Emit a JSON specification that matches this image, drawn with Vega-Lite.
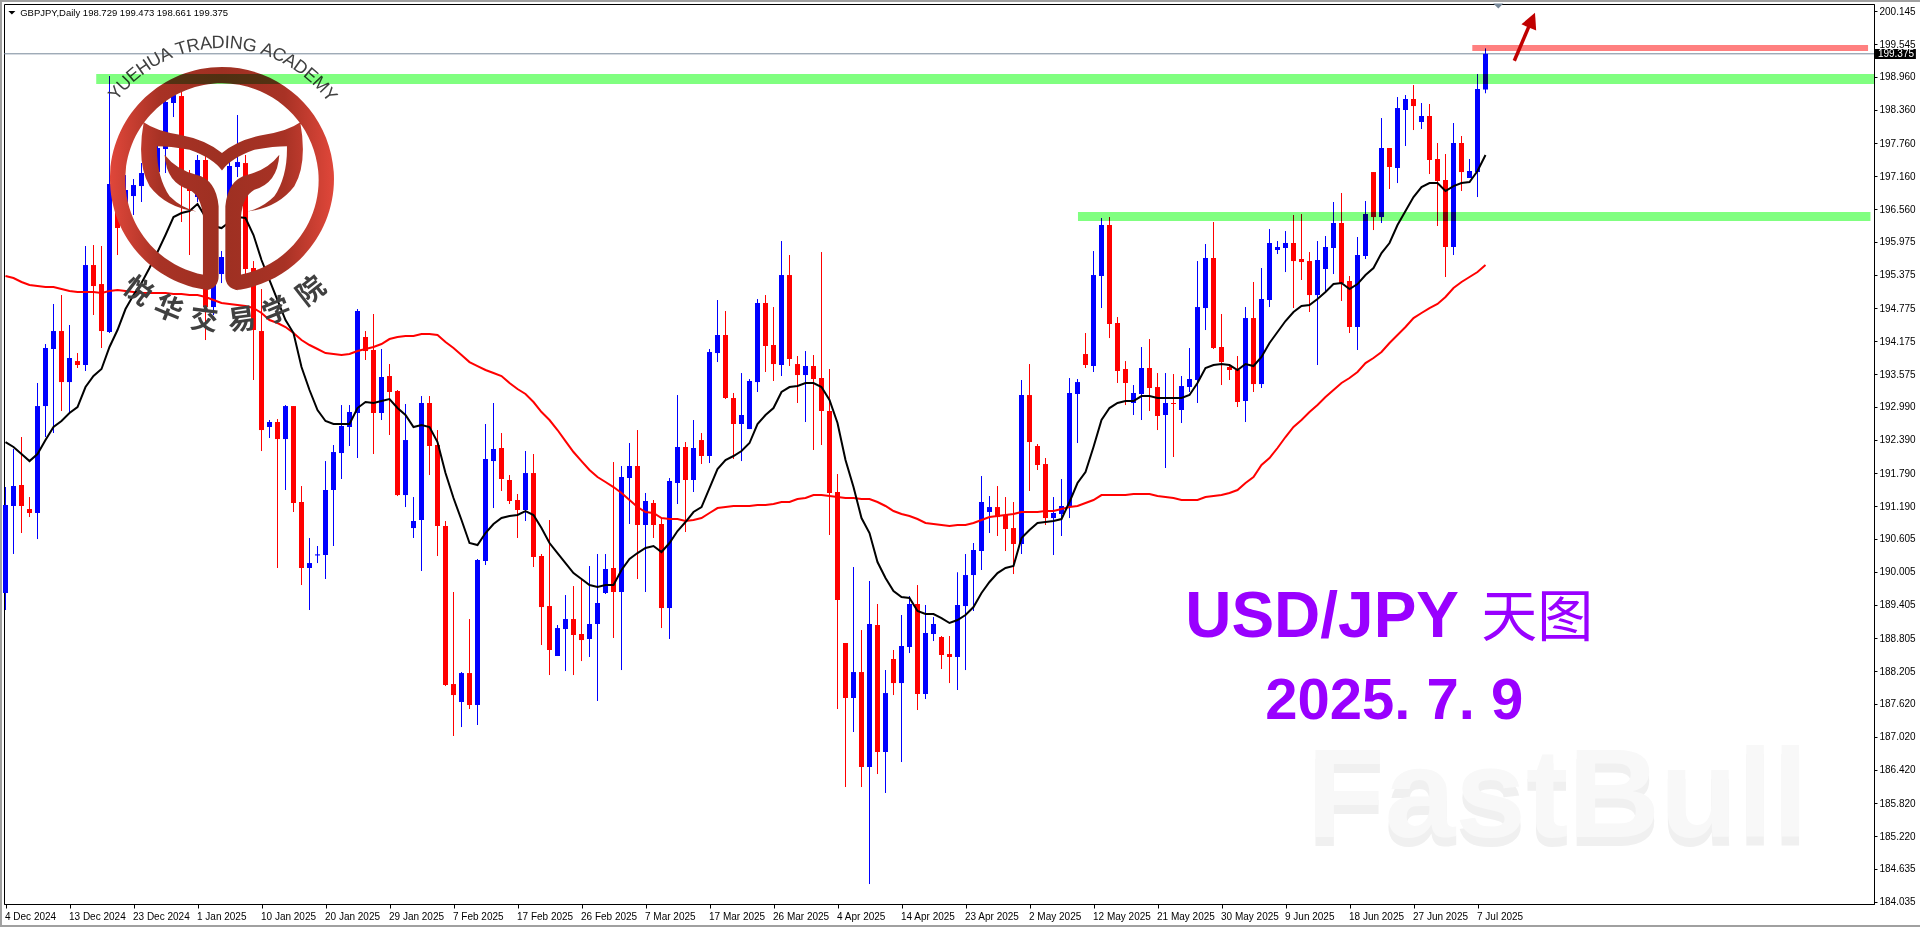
{"$schema":"https://vega.github.io/schema/vega-lite/v6.json","width":1870,"height":900,"autosize":{"type":"none"},"padding":{"left":4,"top":4,"right":46,"bottom":23},"background":"#ffffff","view":{"stroke":"#000000","strokeWidth":1},"config":{"axis":{"grid":false,"title":null,"labelFont":"Liberation Sans","labelColor":"#000000","domainColor":"#000000","tickColor":"#000000","labelOverlap":false}},
"datasets":{"d":[
{"i":0,"o":189.621,"h":191.538,"l":189.313,"c":191.213,"b":192.352,"r":195.355},
{"i":1,"o":191.195,"h":192.226,"l":190.327,"c":191.557,"b":192.262,"r":195.319},
{"i":2,"o":191.575,"h":192.443,"l":190.706,"c":191.195,"b":192.135,"r":195.247},
{"i":3,"o":191.14,"h":191.357,"l":190.995,"c":191.068,"b":192.008,"r":195.192},
{"i":4,"o":191.068,"h":193.42,"l":190.597,"c":193.003,"b":192.135,"r":195.174},
{"i":5,"o":193.003,"h":194.125,"l":192.443,"c":194.053,"b":192.388,"r":195.156},
{"i":6,"o":194.035,"h":194.849,"l":192.515,"c":194.36,"b":192.624,"r":195.156},
{"i":7,"o":194.36,"h":195.011,"l":192.913,"c":193.437,"b":192.732,"r":195.12},
{"i":8,"o":193.437,"h":194.469,"l":192.895,"c":193.872,"b":192.877,"r":195.084},
{"i":9,"o":193.817,"h":193.962,"l":193.691,"c":193.745,"b":192.985,"r":195.066},
{"i":10,"o":193.745,"h":195.898,"l":193.637,"c":195.554,"b":193.347,"r":195.066},
{"i":11,"o":195.554,"h":195.916,"l":194.65,"c":195.174,"b":193.546,"r":195.066},
{"i":12,"o":195.21,"h":195.898,"l":194.053,"c":194.36,"b":193.673,"r":195.048},
{"i":13,"o":194.342,"h":198.973,"l":194.324,"c":197.019,"b":194.071,"r":195.084},
{"i":14,"o":197.019,"h":197.092,"l":195.735,"c":196.224,"b":194.378,"r":195.102},
{"i":15,"o":196.441,"h":197.182,"l":196.332,"c":196.911,"b":194.758,"r":195.084},
{"i":16,"o":196.802,"h":197.11,"l":196.459,"c":197.001,"b":195.011,"r":195.066},
{"i":17,"o":196.983,"h":197.399,"l":196.694,"c":197.218,"b":195.228,"r":195.048},
{"i":18,"o":197.218,"h":197.635,"l":197.092,"c":197.417,"b":195.5,"r":195.048},
{"i":19,"o":197.236,"h":197.815,"l":197.218,"c":197.671,"b":195.789,"r":195.048},
{"i":20,"o":197.653,"h":198.81,"l":197.218,"c":198.503,"b":196.097,"r":195.048},
{"i":21,"o":198.485,"h":198.756,"l":198.231,"c":198.629,"b":196.422,"r":195.03},
{"i":22,"o":198.611,"h":198.756,"l":196.332,"c":197.001,"b":196.495,"r":195.03},
{"i":23,"o":197.001,"h":197.273,"l":195.735,"c":196.893,"b":196.531,"r":195.011},
{"i":24,"o":196.784,"h":197.544,"l":196.694,"c":197.454,"b":196.658,"r":195.011},
{"i":25,"o":197.454,"h":197.544,"l":194.197,"c":194.794,"b":196.422,"r":194.975},
{"i":26,"o":194.794,"h":195.373,"l":194.65,"c":195.283,"b":196.26,"r":194.921},
{"i":27,"o":195.391,"h":195.807,"l":195.228,"c":195.699,"b":196.223,"r":194.867},
{"i":28,"o":195.699,"h":197.454,"l":195.608,"c":197.345,"b":196.332,"r":194.849},
{"i":29,"o":197.327,"h":198.268,"l":197.146,"c":197.417,"b":196.422,"r":194.83},
{"i":30,"o":197.399,"h":197.544,"l":195.373,"c":195.482,"b":196.404,"r":194.812},
{"i":31,"o":195.5,"h":195.626,"l":193.474,"c":194.378,"b":196.097,"r":194.776},
{"i":32,"o":194.36,"h":195.12,"l":192.189,"c":192.569,"b":195.645,"r":194.686},
{"i":33,"o":192.624,"h":192.75,"l":192.425,"c":192.714,"b":195.283,"r":194.559},
{"i":34,"o":192.714,"h":192.768,"l":190.073,"c":192.406,"b":194.921,"r":194.505},
{"i":35,"o":192.406,"h":193.021,"l":191.484,"c":193.003,"b":194.559,"r":194.433},
{"i":36,"o":193.003,"h":193.003,"l":191.086,"c":191.249,"b":194.324,"r":194.324},
{"i":37,"o":191.267,"h":191.556,"l":189.765,"c":190.073,"b":193.709,"r":194.197},
{"i":38,"o":190.073,"h":190.616,"l":189.313,"c":190.163,"b":193.293,"r":194.107},
{"i":39,"o":190.3,"h":190.471,"l":190.163,"c":190.32,"b":192.931,"r":194.035},
{"i":40,"o":190.308,"h":192.008,"l":189.874,"c":191.484,"b":192.732,"r":193.962},
{"i":41,"o":191.484,"h":192.298,"l":190.471,"c":192.171,"b":192.678,"r":193.944},
{"i":42,"o":192.153,"h":193.021,"l":191.683,"c":192.642,"b":192.678,"r":193.926},
{"i":43,"o":192.624,"h":193.021,"l":192.28,"c":192.895,"b":192.678,"r":193.944},
{"i":44,"o":192.877,"h":194.758,"l":192.063,"c":194.722,"b":192.967,"r":193.998},
{"i":45,"o":194.252,"h":194.36,"l":193.836,"c":193.998,"b":193.076,"r":194.035},
{"i":46,"o":194.017,"h":194.668,"l":192.135,"c":192.877,"b":193.058,"r":194.071},
{"i":47,"o":192.877,"h":194.035,"l":192.75,"c":193.528,"b":193.094,"r":194.125},
{"i":48,"o":193.546,"h":193.763,"l":192.479,"c":193.257,"b":193.13,"r":194.215},
{"i":49,"o":193.275,"h":193.293,"l":191.375,"c":191.393,"b":192.967,"r":194.252},
{"i":50,"o":191.393,"h":193.04,"l":191.176,"c":192.388,"b":192.841,"r":194.27},
{"i":51,"o":190.796,"h":191.357,"l":190.616,"c":190.923,"b":192.624,"r":194.27},
{"i":52,"o":190.941,"h":193.184,"l":190.019,"c":193.058,"b":192.66,"r":194.306},
{"i":53,"o":193.058,"h":193.184,"l":191.755,"c":192.28,"b":192.624,"r":194.306},
{"i":54,"o":192.298,"h":192.569,"l":190.29,"c":190.833,"b":192.352,"r":194.288},
{"i":55,"o":190.833,"h":190.923,"l":187.938,"c":187.956,"b":191.791,"r":194.161},
{"i":56,"o":187.974,"h":189.639,"l":187.034,"c":187.775,"b":191.339,"r":194.053},
{"i":57,"o":187.649,"h":188.192,"l":187.196,"c":188.173,"b":190.941,"r":193.926},
{"i":58,"o":188.173,"h":189.15,"l":187.522,"c":187.595,"b":190.525,"r":193.799},
{"i":59,"o":187.595,"h":190.236,"l":187.233,"c":190.218,"b":190.489,"r":193.727},
{"i":60,"o":190.2,"h":192.678,"l":190.127,"c":192.045,"b":190.706,"r":193.655},
{"i":61,"o":192.008,"h":193.058,"l":191.158,"c":192.226,"b":190.869,"r":193.6},
{"i":62,"o":192.244,"h":192.515,"l":191.466,"c":191.683,"b":190.977,"r":193.546},
{"i":63,"o":191.665,"h":191.755,"l":191.231,"c":191.285,"b":191.013,"r":193.42},
{"i":64,"o":191.303,"h":191.412,"l":190.616,"c":191.122,"b":191.032,"r":193.311},
{"i":65,"o":191.122,"h":192.19,"l":190.923,"c":191.791,"b":191.104,"r":193.221},
{"i":66,"o":191.791,"h":192.135,"l":190.091,"c":190.272,"b":191.032,"r":193.076},
{"i":67,"o":190.29,"h":190.326,"l":188.68,"c":189.367,"b":190.796,"r":192.895},
{"i":68,"o":189.385,"h":190.941,"l":188.137,"c":188.59,"b":190.525,"r":192.75},
{"i":69,"o":188.481,"h":189.042,"l":188.481,"c":188.987,"b":190.344,"r":192.569},
{"i":70,"o":188.969,"h":189.584,"l":188.209,"c":189.15,"b":190.163,"r":192.37},
{"i":71,"o":189.15,"h":189.747,"l":188.137,"c":188.861,"b":189.982,"r":192.171},
{"i":72,"o":188.879,"h":189.856,"l":188.39,"c":188.77,"b":189.874,"r":192.008},
{"i":73,"o":188.789,"h":190.109,"l":188.463,"c":189.06,"b":189.765,"r":191.846},
{"i":74,"o":189.06,"h":190.326,"l":187.667,"c":189.44,"b":189.729,"r":191.719},
{"i":75,"o":189.621,"h":190.326,"l":189.603,"c":190.055,"b":189.765,"r":191.629},
{"i":76,"o":190.073,"h":191.99,"l":188.807,"c":189.639,"b":189.765,"r":191.538},
{"i":77,"o":189.639,"h":191.918,"l":188.227,"c":191.719,"b":190.037,"r":191.43},
{"i":78,"o":191.701,"h":192.334,"l":190.869,"c":191.918,"b":190.236,"r":191.303},
{"i":79,"o":191.918,"h":192.569,"l":189.874,"c":190.851,"b":190.344,"r":191.176},
{"i":80,"o":190.851,"h":191.43,"l":189.639,"c":191.285,"b":190.435,"r":191.086},
{"i":81,"o":191.249,"h":191.303,"l":190.616,"c":190.851,"b":190.471,"r":191.068},
{"i":82,"o":190.869,"h":190.959,"l":188.987,"c":189.349,"b":190.362,"r":190.977},
{"i":83,"o":189.349,"h":191.701,"l":188.789,"c":191.647,"b":190.525,"r":190.959},
{"i":84,"o":191.611,"h":193.202,"l":191.231,"c":192.262,"b":190.742,"r":190.959},
{"i":85,"o":192.262,"h":192.352,"l":190.724,"c":191.665,"b":190.905,"r":190.923},
{"i":86,"o":191.665,"h":192.75,"l":191.448,"c":192.244,"b":191.086,"r":190.941},
{"i":87,"o":192.388,"h":192.515,"l":191.954,"c":192.099,"b":191.176,"r":190.977},
{"i":88,"o":192.099,"h":194.035,"l":191.972,"c":193.98,"b":191.52,"r":191.068},
{"i":89,"o":193.962,"h":194.921,"l":193.799,"c":194.288,"b":191.864,"r":191.158},
{"i":90,"o":194.288,"h":194.722,"l":193.13,"c":193.148,"b":192.027,"r":191.176},
{"i":91,"o":193.148,"h":193.239,"l":192.045,"c":192.678,"b":192.099,"r":191.195},
{"i":92,"o":192.678,"h":193.6,"l":192.008,"c":192.841,"b":192.19,"r":191.195},
{"i":93,"o":192.587,"h":193.492,"l":192.587,"c":193.456,"b":192.334,"r":191.195},
{"i":94,"o":193.437,"h":194.939,"l":193.257,"c":194.867,"b":192.678,"r":191.213},
{"i":95,"o":194.867,"h":195.011,"l":193.619,"c":194.089,"b":192.841,"r":191.213},
{"i":96,"o":194.107,"h":194.794,"l":193.456,"c":193.763,"b":192.967,"r":191.231},
{"i":97,"o":193.745,"h":195.988,"l":193.546,"c":195.373,"b":193.257,"r":191.267},
{"i":98,"o":195.373,"h":195.735,"l":193.727,"c":193.854,"b":193.347,"r":191.267},
{"i":99,"o":193.763,"h":193.908,"l":193.058,"c":193.564,"b":193.365,"r":191.321},
{"i":100,"o":193.564,"h":193.998,"l":192.714,"c":193.727,"b":193.42,"r":191.339},
{"i":101,"o":193.727,"h":193.926,"l":192.208,"c":193.492,"b":193.42,"r":191.393},
{"i":102,"o":193.51,"h":195.789,"l":192.298,"c":192.913,"b":193.347,"r":191.393},
{"i":103,"o":192.913,"h":193.673,"l":190.67,"c":191.43,"b":193.112,"r":191.375},
{"i":104,"o":191.448,"h":191.773,"l":187.522,"c":189.494,"b":192.696,"r":191.357},
{"i":105,"o":188.716,"h":188.716,"l":186.111,"c":187.721,"b":192.027,"r":191.339},
{"i":106,"o":187.721,"h":190.091,"l":187.106,"c":188.191,"b":191.538,"r":191.339},
{"i":107,"o":188.191,"h":188.951,"l":186.111,"c":186.473,"b":190.977,"r":191.321},
{"i":108,"o":186.473,"h":189.838,"l":184.356,"c":189.06,"b":190.706,"r":191.321},
{"i":109,"o":189.042,"h":189.422,"l":186.346,"c":186.745,"b":190.181,"r":191.267},
{"i":110,"o":186.745,"h":188.228,"l":186.003,"c":187.811,"b":189.892,"r":191.195},
{"i":111,"o":188.427,"h":188.59,"l":187.775,"c":187.992,"b":189.657,"r":191.104},
{"i":112,"o":187.992,"h":189.223,"l":186.563,"c":188.662,"b":189.548,"r":191.05},
{"i":113,"o":188.644,"h":189.566,"l":188.535,"c":189.422,"b":189.53,"r":191.013},
{"i":114,"o":189.422,"h":189.765,"l":187.504,"c":187.794,"b":189.295,"r":190.959},
{"i":115,"o":187.794,"h":189.404,"l":187.703,"c":188.897,"b":189.241,"r":190.887},
{"i":116,"o":188.879,"h":189.186,"l":188.752,"c":189.06,"b":189.241,"r":190.869},
{"i":117,"o":188.825,"h":188.843,"l":188.246,"c":188.499,"b":189.168,"r":190.851},
{"i":118,"o":188.517,"h":188.843,"l":187.992,"c":188.463,"b":189.078,"r":190.833},
{"i":119,"o":188.463,"h":189.996,"l":187.866,"c":189.404,"b":189.132,"r":190.851},
{"i":120,"o":189.385,"h":190.326,"l":188.227,"c":189.946,"b":189.223,"r":190.851},
{"i":121,"o":189.946,"h":190.525,"l":189.295,"c":190.399,"b":189.367,"r":190.887},
{"i":122,"o":190.381,"h":191.737,"l":190.037,"c":191.267,"b":189.621,"r":190.941},
{"i":123,"o":191.086,"h":191.375,"l":190.706,"c":191.176,"b":189.82,"r":190.995},
{"i":124,"o":191.176,"h":191.556,"l":190.652,"c":190.995,"b":189.982,"r":191.013},
{"i":125,"o":191.032,"h":191.357,"l":190.38,"c":190.778,"b":190.073,"r":191.032},
{"i":126,"o":190.796,"h":191.267,"l":189.964,"c":190.507,"b":190.109,"r":191.05},
{"i":127,"o":190.507,"h":193.474,"l":190.326,"c":193.202,"b":190.616,"r":191.086},
{"i":128,"o":193.202,"h":193.763,"l":191.466,"c":192.352,"b":190.76,"r":191.086},
{"i":129,"o":192.28,"h":192.316,"l":191.846,"c":191.936,"b":190.887,"r":191.086},
{"i":130,"o":191.954,"h":192.063,"l":190.851,"c":190.977,"b":190.905,"r":191.104},
{"i":131,"o":190.977,"h":191.357,"l":190.308,"c":191.068,"b":190.923,"r":191.104},
{"i":132,"o":191.05,"h":191.683,"l":190.652,"c":191.195,"b":190.959,"r":191.14},
{"i":133,"o":191.195,"h":193.51,"l":190.977,"c":193.239,"b":191.267,"r":191.176},
{"i":134,"o":193.221,"h":193.492,"l":192.334,"c":193.437,"b":191.611,"r":191.195},
{"i":135,"o":193.944,"h":194.324,"l":193.691,"c":193.745,"b":191.81,"r":191.249},
{"i":136,"o":193.727,"h":195.807,"l":193.619,"c":195.373,"b":192.262,"r":191.303},
{"i":137,"o":195.355,"h":196.404,"l":194.776,"c":196.278,"b":192.75,"r":191.393},
{"i":138,"o":196.278,"h":196.422,"l":194.233,"c":194.487,"b":192.967,"r":191.393},
{"i":139,"o":194.505,"h":194.613,"l":193.42,"c":193.637,"b":193.058,"r":191.393},
{"i":140,"o":193.673,"h":193.817,"l":193.021,"c":193.42,"b":193.094,"r":191.393},
{"i":141,"o":193.058,"h":193.383,"l":192.841,"c":193.239,"b":193.094,"r":191.412},
{"i":142,"o":193.221,"h":194.071,"l":192.75,"c":193.691,"b":193.184,"r":191.412},
{"i":143,"o":193.691,"h":194.215,"l":192.913,"c":193.329,"b":193.184,"r":191.412},
{"i":144,"o":193.347,"h":193.6,"l":192.569,"c":192.823,"b":193.148,"r":191.375},
{"i":145,"o":192.841,"h":193.6,"l":191.882,"c":193.058,"b":193.148,"r":191.357},
{"i":146,"o":193.058,"h":193.582,"l":192.081,"c":193.04,"b":193.148,"r":191.339},
{"i":147,"o":192.931,"h":193.546,"l":192.696,"c":193.365,"b":193.148,"r":191.303},
{"i":148,"o":193.347,"h":194.053,"l":193.257,"c":193.492,"b":193.202,"r":191.303},
{"i":149,"o":193.474,"h":195.626,"l":193.058,"c":194.794,"b":193.42,"r":191.303},
{"i":150,"o":194.776,"h":195.934,"l":194.378,"c":195.681,"b":193.691,"r":191.357},
{"i":151,"o":195.681,"h":196.332,"l":194.035,"c":194.053,"b":193.745,"r":191.375},
{"i":152,"o":194.071,"h":194.668,"l":193.383,"c":193.799,"b":193.763,"r":191.393},
{"i":153,"o":193.709,"h":193.745,"l":193.474,"c":193.655,"b":193.745,"r":191.43},
{"i":154,"o":193.655,"h":193.908,"l":192.985,"c":193.076,"b":193.655,"r":191.484},
{"i":155,"o":193.094,"h":194.794,"l":192.714,"c":194.595,"b":193.763,"r":191.611},
{"i":156,"o":194.595,"h":195.247,"l":193.257,"c":193.401,"b":193.727,"r":191.719},
{"i":157,"o":193.401,"h":195.5,"l":193.329,"c":194.939,"b":193.89,"r":191.936},
{"i":158,"o":194.921,"h":196.205,"l":194.794,"c":195.952,"b":194.143,"r":192.063},
{"i":159,"o":195.826,"h":195.988,"l":195.753,"c":195.88,"b":194.342,"r":192.244},
{"i":160,"o":195.862,"h":196.169,"l":195.427,"c":195.952,"b":194.541,"r":192.443},
{"i":161,"o":195.952,"h":196.459,"l":194.776,"c":195.626,"b":194.704,"r":192.624},
{"i":162,"o":195.663,"h":196.477,"l":195.283,"c":195.608,"b":194.812,"r":192.75},
{"i":163,"o":195.626,"h":195.789,"l":194.704,"c":195.011,"b":194.83,"r":192.895},
{"i":164,"o":195.011,"h":195.988,"l":193.745,"c":195.645,"b":194.939,"r":193.021},
{"i":165,"o":195.482,"h":196.079,"l":195.066,"c":195.88,"b":195.066,"r":193.166},
{"i":166,"o":195.862,"h":196.694,"l":195.391,"c":196.314,"b":195.21,"r":193.293},
{"i":167,"o":196.314,"h":196.857,"l":194.903,"c":195.228,"b":195.228,"r":193.42},
{"i":168,"o":195.265,"h":195.355,"l":194.324,"c":194.433,"b":195.12,"r":193.51},
{"i":169,"o":194.433,"h":196.061,"l":194.017,"c":195.735,"b":195.21,"r":193.619},
{"i":170,"o":195.717,"h":196.712,"l":195.663,"c":196.477,"b":195.373,"r":193.781},
{"i":171,"o":197.236,"h":197.236,"l":196.187,"c":196.422,"b":195.5,"r":193.872},
{"i":172,"o":196.422,"h":198.213,"l":196.314,"c":197.671,"b":195.771,"r":193.98},
{"i":173,"o":197.671,"h":197.671,"l":196.929,"c":197.327,"b":195.952,"r":194.143},
{"i":174,"o":197.309,"h":198.593,"l":197.037,"c":198.394,"b":196.278,"r":194.288},
{"i":175,"o":198.358,"h":198.629,"l":197.707,"c":198.557,"b":196.531,"r":194.433},
{"i":176,"o":198.557,"h":198.81,"l":197.996,"c":198.43,"b":196.784,"r":194.595},
{"i":177,"o":198.141,"h":198.485,"l":198.014,"c":198.25,"b":196.965,"r":194.686},
{"i":178,"o":198.25,"h":198.467,"l":197.2,"c":197.454,"b":197.037,"r":194.776},
{"i":179,"o":197.472,"h":197.761,"l":196.26,"c":197.074,"b":197.037,"r":194.849},
{"i":180,"o":197.092,"h":197.562,"l":195.337,"c":195.88,"b":196.893,"r":194.975},
{"i":181,"o":195.88,"h":198.123,"l":195.735,"c":197.761,"b":196.983,"r":195.138},
{"i":182,"o":197.761,"h":197.888,"l":196.893,"c":197.236,"b":197.037,"r":195.247},
{"i":183,"o":197.128,"h":197.472,"l":197.128,"c":197.255,"b":197.056,"r":195.337},
{"i":184,"o":197.236,"h":199.009,"l":196.784,"c":198.738,"b":197.255,"r":195.427},
{"i":185,"o":198.729,"h":199.473,"l":198.661,"c":199.375,"b":197.544,"r":195.554}
],
"bands":[
{"k":"support","x0":11.34,"x1":233.5625,"p0":199.009,"p1":198.829},
{"k":"support","x0":134.06,"x1":233.12,"p0":196.513,"p1":196.35},
{"k":"resistance","x0":183.35,"x1":232.82,"p0":199.534,"p1":199.425}
],
"chrome":[
{"x0":-0.69,"x1":240,"p0":200.348,"p1":200.312},
{"x0":-0.69,"x1":-0.44,"p0":200.348,"p1":183.58},
{"x0":-0.69,"x1":240,"p0":183.615,"p1":183.58}
],
"arc":[
{"t":"Y","i":13.85,"p":198.658,"a":-51},{"t":"U","i":14.89,"p":198.827,"a":-45.7},{"t":"E","i":16.05,"p":198.984,"a":-40.4},{"t":"H","i":17.29,"p":199.121,"a":-35.1},{"t":"U","i":18.66,"p":199.25,"a":-29.6},{"t":"A","i":20.06,"p":199.351,"a":-24.3},
{"t":"T","i":22.01,"p":199.46,"a":-17.3},{"t":"R","i":23.47,"p":199.514,"a":-12.2},{"t":"A","i":25.03,"p":199.552,"a":-6.9},{"t":"D","i":26.59,"p":199.57,"a":-1.6},{"t":"I","i":27.71,"p":199.568,"a":2.2},{"t":"N","i":28.85,"p":199.557,"a":6},{"t":"G","i":30.51,"p":199.518,"a":11.7},
{"t":"A","i":32.69,"p":199.433,"a":19.3},{"t":"C","i":34.14,"p":199.346,"a":24.6},{"t":"A","i":35.53,"p":199.243,"a":29.9},{"t":"D","i":36.85,"p":199.12,"a":35.2},{"t":"E","i":38.1,"p":198.98,"a":40.5},{"t":"M","i":39.34,"p":198.812,"a":46.2},{"t":"Y","i":40.46,"p":198.626,"a":52}
],
"cn":[
{"t":"悦","i":16.44,"p":195.066,"a":37},{"t":"华","i":20.31,"p":194.74,"a":22},{"t":"交","i":24.81,"p":194.541,"a":7},{"t":"易","i":29.56,"p":194.541,"a":-8},{"t":"学","i":33.94,"p":194.704,"a":-22},{"t":"院","i":38.31,"p":195.066,"a":-38}
]},
"layer":[
{"data":{"name":"chrome"},"mark":{"type":"rect","color":"#a0a0a0","clip":false},"encoding":{"x":{"field":"x0","type":"quantitative","scale":{"domain":[-0.1875,233.5625],"nice":false,"zero":false,"padding":0},"axis":{"orient":"bottom","values":[0,8,16,24,32,40,48,56,64,72,80,88,96,104,112,120,128,136,144,152,160,168,176,184],"labelExpr":"['4 Dec 2024','13 Dec 2024','23 Dec 2024','1 Jan 2025','10 Jan 2025','20 Jan 2025','29 Jan 2025','7 Feb 2025','17 Feb 2025','26 Feb 2025','7 Mar 2025','17 Mar 2025','26 Mar 2025','4 Apr 2025','14 Apr 2025','23 Apr 2025','2 May 2025','12 May 2025','21 May 2025','30 May 2025','9 Jun 2025','18 Jun 2025','27 Jun 2025','7 Jul 2025'][datum.value/8]","labelAlign":"left","labelFontSize":10,"labelOverlap":false,"labelBound":false,"labelFlush":false,"labelOffset":-1,"labelPadding":3,"labelAngle":0,"tickSize":4,"tickCount":60,"title":null}},"x2":{"field":"x1"},"y":{"field":"p0","type":"quantitative","scale":{"domain":[183.995,200.276],"nice":false,"zero":false},"axis":{"orient":"right","values":[200.145,199.545,198.96,198.36,197.76,197.16,196.56,195.975,195.375,194.775,194.175,193.575,192.99,192.39,191.79,191.19,190.605,190.005,189.405,188.805,188.205,187.62,187.02,186.42,185.82,185.22,184.635,184.035],"format":".3f","labelFontSize":10,"labelPadding":2,"tickSize":3,"tickCount":60,"labelOverlap":false,"labelBound":false,"title":null}},"y2":{"field":"p1"}}},
{"data":{"values":[{"i":162.7,"p":185.04,"t":"FastBull"}]},"mark":{"type":"text","font":"Liberation Sans","fontWeight":"bold","fontSize":127,"color":"#f0f0f0","align":"left","baseline":"alphabetic"},"encoding":{"x":{"field":"i","type":"quantitative","scale":{"domain":[-0.1875,233.5625],"nice":false,"zero":false,"padding":0}},"y":{"field":"p","type":"quantitative","scale":{"domain":[183.995,200.276],"nice":false,"zero":false}},"text":{"field":"t"}}},
{"data":{"values":[{"i":162.7,"p":185.206,"t":"FastBull"}]},"mark":{"type":"text","font":"Liberation Sans","fontWeight":"bold","fontSize":127,"color":"#f8f8f8","align":"left","baseline":"alphabetic"},"encoding":{"x":{"field":"i","type":"quantitative","scale":{"domain":[-0.1875,233.5625],"nice":false,"zero":false,"padding":0}},"y":{"field":"p","type":"quantitative","scale":{"domain":[183.995,200.276],"nice":false,"zero":false}},"text":{"field":"t"}}},
{"data":{"values":[{"p":199.375}]},"mark":{"type":"rule","color":"#778899","strokeWidth":1},"encoding":{"y":{"field":"p","type":"quantitative","scale":{"domain":[183.995,200.276],"nice":false,"zero":false}}}},
{"data":{"name":"d"},"mark":{"type":"rule","strokeWidth":1},"encoding":{"x":{"field":"i","type":"quantitative","scale":{"domain":[-0.1875,233.5625],"nice":false,"zero":false,"padding":0}},"y":{"field":"l","type":"quantitative","scale":{"domain":[183.995,200.276],"nice":false,"zero":false}},"y2":{"field":"h"},"color":{"condition":{"test":"datum.c>=datum.o","value":"#0000ff"},"value":"#ff0000"}}},
{"data":{"name":"d"},"mark":{"type":"bar","size":5,"orient":"vertical"},"encoding":{"x":{"field":"i","type":"quantitative","scale":{"domain":[-0.1875,233.5625],"nice":false,"zero":false,"padding":0}},"y":{"field":"o","type":"quantitative","scale":{"domain":[183.995,200.276],"nice":false,"zero":false}},"y2":{"field":"c"},"color":{"condition":{"test":"datum.c>=datum.o","value":"#0000ff"},"value":"#ff0000"}}},
{"data":{"name":"d"},"mark":{"type":"line","color":"#ff0000","strokeWidth":2,"interpolate":"linear"},"encoding":{"x":{"field":"i","type":"quantitative","scale":{"domain":[-0.1875,233.5625],"nice":false,"zero":false,"padding":0}},"y":{"field":"r","type":"quantitative","scale":{"domain":[183.995,200.276],"nice":false,"zero":false}}}},
{"data":{"name":"d"},"mark":{"type":"line","color":"#000000","strokeWidth":2,"interpolate":"linear"},"encoding":{"x":{"field":"i","type":"quantitative","scale":{"domain":[-0.1875,233.5625],"nice":false,"zero":false,"padding":0}},"y":{"field":"b","type":"quantitative","scale":{"domain":[183.995,200.276],"nice":false,"zero":false}}}},
{"data":{"values":[{"i":27.06,"p":197.11}]},"mark":{"type":"point","filled":true,"opacity":1,"strokeWidth":0,"size":50176,"shape":"M-0.125 0.992 A1 1 0 1 1 0.125 0.992 L0.164 0.855 A0.863 0.863 0 1 0 -0.164 0.855 Z M-0.699 -0.506 Q-0.586 -0.426 -0.378 -0.396 Q-0.14 -0.351 0 -0.232 L0 -0.077 Q-0.08 -0.1875 -0.289 -0.262 Q-0.467 -0.292 -0.58 -0.292 Q-0.586 -0.024 -0.467 0.155 Q-0.363 0.259 -0.229 0.289 Q-0.497 0.259 -0.646 0.065 Q-0.765 -0.143 -0.699 -0.506 Z M0 -0.232 Q0.14 -0.351 0.378 -0.396 Q0.586 -0.426 0.699 -0.506 Q0.765 -0.143 0.646 0.065 Q0.497 0.259 0.229 0.289 Q0.363 0.259 0.467 0.155 Q0.586 -0.024 0.58 -0.292 Q0.467 -0.292 0.289 -0.262 Q0.08 -0.1875 0 -0.077 Z M-0.512 -0.217 Q-0.408 -0.083 -0.229 -0.039 Q-0.05 0.006 -0.03 0.244 L-0.03 0.869 Q-0.03 0.973 -0.14 0.994 L-0.17 0.854 L-0.17 0.333 Q-0.185 0.155 -0.289 0.095 Q-0.497 0.036 -0.512 -0.217 Z M0.512 -0.217 Q0.497 0.036 0.289 0.095 Q0.185 0.155 0.17 0.333 L0.17 0.854 L0.14 0.994 Q0.03 0.973 0.03 0.869 L0.03 0.244 Q0.05 0.006 0.229 -0.039 Q0.408 -0.083 0.512 -0.217 Z","fill":{"gradient":"linear","x1":0,"y1":0.5,"x2":1,"y2":0.5,"stops":[{"offset":0,"color":"#e0473a"},{"offset":0.22,"color":"#a83225"},{"offset":0.5,"color":"#9e3022"},{"offset":0.78,"color":"#a83225"},{"offset":1,"color":"#e0473a"}]}},"encoding":{"x":{"field":"i","type":"quantitative","scale":{"domain":[-0.1875,233.5625],"nice":false,"zero":false,"padding":0}},"y":{"field":"p","type":"quantitative","scale":{"domain":[183.995,200.276],"nice":false,"zero":false}}}},
{"data":{"name":"arc"},"mark":{"type":"text","font":"Liberation Sans","fontSize":18,"color":"#404040","align":"center","baseline":"middle"},"encoding":{"x":{"field":"i","type":"quantitative","scale":{"domain":[-0.1875,233.5625],"nice":false,"zero":false,"padding":0}},"y":{"field":"p","type":"quantitative","scale":{"domain":[183.995,200.276],"nice":false,"zero":false}},"text":{"field":"t"},"angle":{"field":"a","type":"quantitative","scale":null}}},
{"data":{"name":"cn"},"mark":{"type":"text","font":"Noto Sans CJK SC","fontWeight":"bold","fontSize":28,"color":"#404040","align":"center","baseline":"middle"},"encoding":{"x":{"field":"i","type":"quantitative","scale":{"domain":[-0.1875,233.5625],"nice":false,"zero":false,"padding":0}},"y":{"field":"p","type":"quantitative","scale":{"domain":[183.995,200.276],"nice":false,"zero":false}},"text":{"field":"t"},"angle":{"field":"a","type":"quantitative","scale":null}}},
{"data":{"name":"bands"},"mark":{"type":"rect","blend":"multiply"},"encoding":{"x":{"field":"x0","type":"quantitative","scale":{"domain":[-0.1875,233.5625],"nice":false,"zero":false,"padding":0}},"x2":{"field":"x1"},"y":{"field":"p0","type":"quantitative","scale":{"domain":[183.995,200.276],"nice":false,"zero":false}},"y2":{"field":"p1"},"color":{"field":"k","type":"nominal","scale":{"domain":["support","resistance"],"range":["#80ff80","#ff8080"]},"legend":null}}},
{"data":{"values":[{"x0":188.6,"x1":190.6,"p0":199.25,"p1":199.93}]},"mark":{"type":"rule","color":"#c00000","strokeWidth":3.5},"encoding":{"x":{"field":"x0","type":"quantitative","scale":{"domain":[-0.1875,233.5625],"nice":false,"zero":false,"padding":0}},"x2":{"field":"x1"},"y":{"field":"p0","type":"quantitative","scale":{"domain":[183.995,200.276],"nice":false,"zero":false}},"y2":{"field":"p1"}}},
{"data":{"values":[{"i":190.8,"p":199.986}]},"mark":{"type":"point","filled":true,"opacity":1,"strokeWidth":0,"color":"#c00000","size":256,"angle":22.8,"shape":"M0 -1 L1 1 L-1 1 Z"},"encoding":{"x":{"field":"i","type":"quantitative","scale":{"domain":[-0.1875,233.5625],"nice":false,"zero":false,"padding":0}},"y":{"field":"p","type":"quantitative","scale":{"domain":[183.995,200.276],"nice":false,"zero":false}}}},
{"data":{"values":[{"i":186.6,"p":200.24}]},"mark":{"type":"point","filled":true,"opacity":1,"strokeWidth":0,"color":"#778899","size":100,"shape":"M-1 -0.5 L1 -0.5 L0 0.5 Z"},"encoding":{"x":{"field":"i","type":"quantitative","scale":{"domain":[-0.1875,233.5625],"nice":false,"zero":false,"padding":0}},"y":{"field":"p","type":"quantitative","scale":{"domain":[183.995,200.276],"nice":false,"zero":false}}}},
{"data":{"values":[{"i":0.8,"p":200.118}]},"mark":{"type":"point","filled":true,"opacity":1,"strokeWidth":0,"color":"#000000","size":49,"shape":"M-1 -0.5 L1 -0.5 L0 0.5 Z"},"encoding":{"x":{"field":"i","type":"quantitative","scale":{"domain":[-0.1875,233.5625],"nice":false,"zero":false,"padding":0}},"y":{"field":"p","type":"quantitative","scale":{"domain":[183.995,200.276],"nice":false,"zero":false}}}},
{"data":{"values":[{"i":1.84,"p":200.118,"t":"GBPJPY,Daily  198.729 199.473 198.661 199.375"}]},"mark":{"type":"text","font":"Liberation Sans","fontSize":9.5,"color":"#000000","align":"left","baseline":"middle"},"encoding":{"x":{"field":"i","type":"quantitative","scale":{"domain":[-0.1875,233.5625],"nice":false,"zero":false,"padding":0}},"y":{"field":"p","type":"quantitative","scale":{"domain":[183.995,200.276],"nice":false,"zero":false}},"text":{"field":"t"}}},
{"data":{"values":[{"x0":233.69,"x1":238.8,"p0":199.462,"p1":199.281}]},"mark":{"type":"rect","color":"#000000","clip":false},"encoding":{"x":{"field":"x0","type":"quantitative","scale":{"domain":[-0.1875,233.5625],"nice":false,"zero":false,"padding":0}},"x2":{"field":"x1"},"y":{"field":"p0","type":"quantitative","scale":{"domain":[183.995,200.276],"nice":false,"zero":false}},"y2":{"field":"p1"}}},
{"data":{"values":[{"i":234.05,"p":199.37,"t":"199.375"}]},"mark":{"type":"text","font":"Liberation Sans","fontSize":10,"color":"#ffffff","align":"left","baseline":"middle"},"encoding":{"x":{"field":"i","type":"quantitative","scale":{"domain":[-0.1875,233.5625],"nice":false,"zero":false,"padding":0}},"y":{"field":"p","type":"quantitative","scale":{"domain":[183.995,200.276],"nice":false,"zero":false}},"text":{"field":"t"}}},
{"data":{"values":[{"i":147.46,"p":188.825,"t":"USD/JPY"}]},"mark":{"type":"text","font":"Liberation Sans","fontWeight":"bold","fontSize":64,"color":"#9900ff","align":"left","baseline":"alphabetic"},"encoding":{"x":{"field":"i","type":"quantitative","scale":{"domain":[-0.1875,233.5625],"nice":false,"zero":false,"padding":0}},"y":{"field":"p","type":"quantitative","scale":{"domain":[183.995,200.276],"nice":false,"zero":false}},"text":{"field":"t"}}},
{"data":{"values":[{"i":184.46,"p":188.84,"t":"天图"}]},"mark":{"type":"text","font":"Noto Sans CJK SC","fontSize":56,"color":"#9900ff","align":"left","baseline":"alphabetic"},"encoding":{"x":{"field":"i","type":"quantitative","scale":{"domain":[-0.1875,233.5625],"nice":false,"zero":false,"padding":0}},"y":{"field":"p","type":"quantitative","scale":{"domain":[183.995,200.276],"nice":false,"zero":false}},"text":{"field":"t"}}},
{"data":{"values":[{"i":157.46,"p":187.34,"t":"2025. 7. 9"}]},"mark":{"type":"text","font":"Liberation Sans","fontWeight":"bold","fontSize":58,"color":"#9900ff","align":"left","baseline":"alphabetic"},"encoding":{"x":{"field":"i","type":"quantitative","scale":{"domain":[-0.1875,233.5625],"nice":false,"zero":false,"padding":0}},"y":{"field":"p","type":"quantitative","scale":{"domain":[183.995,200.276],"nice":false,"zero":false}},"text":{"field":"t"}}}
]}
